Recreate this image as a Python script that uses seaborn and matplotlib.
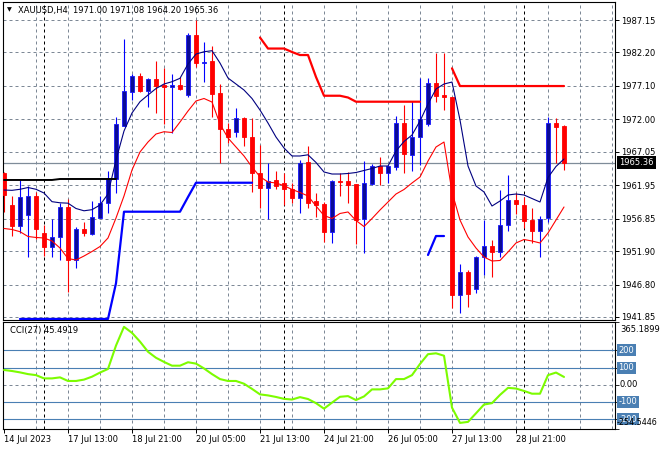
import numpy as np
import matplotlib
matplotlib.use("Agg")
import matplotlib.pyplot as plt
import seaborn as sns
from matplotlib.transforms import blended_transform_factory

sns.set_style("white")
plt.rcParams['font.family'] = ['DejaVu Sans']

# ---------------- data (XAUUSD H4) ----------------
opens = [1963.81, 1958.93, 1955.78, 1957.41, 1960.31, 1954.62, 1952.48, 1954.01, 1958.58, 1950.54,
         1955.27, 1954.46, 1957.00, 1959.19, 1962.97, 1971.03, 1976.21, 1978.61, 1976.37, 1978.15,
         1977.24, 1976.98, 1977.24, 1975.71, 1984.86, 1980.64, 1980.90, 1975.97, 1970.48, 1970.11,
         1972.16, 1969.26, 1963.86, 1961.48, 1962.75, 1962.24, 1961.33, 1959.95, 1965.45, 1959.59,
         1959.09, 1954.86, 1962.59, 1962.59, 1962.14, 1956.75, 1962.14, 1964.88, 1963.77, 1964.77,
         1971.39, 1966.56, 1969.26, 1971.29, 1977.59, 1975.71, 1975.36, 1945.21, 1948.67, 1946.07,
         1950.96, 1952.68, 1951.81, 1955.88, 1959.70, 1958.93, 1956.64, 1955.01, 1956.90, 1971.39,
         1971.00]
highs = [1963.97, 1960.31, 1962.75, 1961.88, 1960.96, 1955.88, 1956.80, 1959.24, 1959.80, 1955.53,
         1956.34, 1959.54, 1960.31, 1964.16, 1972.31, 1984.21, 1978.91, 1979.11, 1978.35, 1980.90,
         1979.78, 1978.91, 1978.41, 1985.12, 1987.15, 1983.79, 1983.18, 1977.39, 1971.39, 1973.68,
         1972.40, 1972.16, 1968.08, 1965.29, 1964.16, 1963.86, 1962.24, 1965.80, 1967.86, 1960.72,
         1959.44, 1962.75, 1963.77, 1964.01, 1962.14, 1965.64, 1965.19, 1966.30, 1965.03, 1972.51,
         1974.19, 1974.84, 1978.26, 1978.26, 1982.07, 1982.07, 1975.45, 1949.93, 1949.02, 1951.15,
         1956.64, 1953.59, 1961.22, 1963.51, 1960.81, 1960.20, 1958.43, 1957.26, 1972.40, 1972.16,
         1971.08]
lows = [1957.87, 1954.20, 1954.66, 1951.00, 1953.75, 1951.15, 1950.96, 1950.54, 1945.71, 1949.28,
        1954.25, 1954.36, 1956.90, 1957.76, 1960.72, 1971.03, 1974.95, 1976.21, 1973.93, 1972.92,
        1971.29, 1969.87, 1976.47, 1975.45, 1980.03, 1977.74, 1972.31, 1965.29, 1968.44, 1969.35,
        1967.93, 1960.96, 1958.43, 1956.75, 1961.33, 1958.93, 1959.28, 1957.76, 1958.48, 1957.15,
        1953.34, 1953.09, 1960.35, 1959.28, 1952.98, 1951.57, 1961.98, 1961.98, 1962.24, 1964.27,
        1963.86, 1964.16, 1965.03, 1970.98, 1974.69, 1973.42, 1943.18, 1942.51, 1943.42, 1945.46,
        1948.26, 1947.91, 1950.96, 1955.01, 1957.56, 1955.38, 1953.09, 1951.05, 1956.39, 1965.38,
        1964.20]
closes = [1960.46, 1955.73, 1960.11, 1960.31, 1955.23, 1952.57, 1954.01, 1958.58, 1950.54, 1955.23,
          1954.71, 1957.06, 1959.19, 1963.01, 1971.29, 1976.37, 1978.61, 1976.37, 1978.15, 1977.08,
          1976.98, 1977.24, 1976.58, 1984.86, 1980.55, 1980.79, 1975.86, 1970.48, 1969.35, 1972.16,
          1969.26, 1963.86, 1961.48, 1962.64, 1961.83, 1961.33, 1959.95, 1965.38, 1959.28, 1958.93,
          1954.77, 1962.64, 1962.44, 1961.98, 1956.64, 1962.24, 1964.88, 1963.77, 1964.88, 1971.39,
          1966.64, 1969.26, 1972.00, 1977.59, 1975.56, 1975.36, 1945.21, 1948.67, 1945.36, 1950.96,
          1952.68, 1951.81, 1955.88, 1959.70, 1959.09, 1956.54, 1955.01, 1956.75, 1971.39, 1970.88,
          1965.36]

ma_upper = [1961.22, 1961.17, 1961.33, 1961.60, 1961.33, 1960.76, 1959.44, 1959.27, 1959.21, 1958.40,
            1958.05, 1958.22, 1958.93, 1960.61, 1965.80, 1970.22, 1972.97, 1974.69, 1975.71, 1976.70,
            1977.39, 1977.74, 1978.26, 1980.44, 1981.96, 1982.31, 1982.47, 1980.59, 1978.30, 1977.39,
            1976.47, 1975.18, 1973.42, 1971.44, 1969.30, 1967.63, 1966.41, 1966.41, 1966.59, 1965.42,
            1963.97, 1963.66, 1963.66, 1963.74, 1963.89, 1964.20, 1964.50, 1964.88, 1964.88, 1967.17,
            1968.62, 1969.61, 1971.74, 1974.34, 1976.63, 1977.39, 1977.69, 1971.90, 1964.88, 1961.83,
            1960.92, 1958.78, 1959.54, 1960.46, 1960.61, 1960.46, 1959.92, 1959.39, 1963.13, 1964.81,
            1965.95]
ma_lower = [1955.35, 1955.20, 1954.86, 1954.13, 1953.98, 1953.90, 1953.44, 1952.37, 1950.77, 1950.54,
            1951.15, 1951.84, 1952.60, 1953.90, 1956.95, 1960.31, 1964.27, 1967.02, 1968.54, 1969.76,
            1970.11, 1969.99, 1971.59, 1973.27, 1974.80, 1975.18, 1974.64, 1971.29, 1969.15, 1967.78,
            1966.41, 1964.73, 1963.25, 1962.44, 1962.29, 1961.88, 1961.30, 1960.84, 1960.31, 1958.78,
            1957.33, 1956.87, 1957.64, 1957.87, 1956.57, 1955.65, 1956.87, 1958.17, 1959.39, 1960.61,
            1961.30, 1962.29, 1963.20, 1965.64, 1967.78, 1968.54, 1960.92, 1956.64, 1954.05, 1952.37,
            1951.00, 1950.39, 1950.47, 1951.76, 1953.14, 1953.67, 1953.44, 1953.14, 1954.66, 1956.64,
            1958.63]

cci = [86, 80, 72, 62, 56, 37, 37, 43, 22, 22,
       30, 47, 71, 92, 228, 337, 302, 251, 192, 157,
       133, 111, 111, 131, 123, 95, 62, 33, 22, 22,
       6, -24, -56, -62, -71, -82, -86, -72, -83, -107,
       -139, -104, -70, -66, -89, -68, -27, -27, -21, 33,
       33, 56, 121, 178, 183, 169, -133, -222, -216, -166,
       -115, -107, -59, -18, -22, -36, -52, -52, 56, 71,
       45.4919]

# trailing-stop style segments: first bar index and values
stop_black_start = 0
stop_black = [1962.75, 1962.75, 1962.75, 1962.75, 1962.75, 1962.75, 1962.75,
              1962.90, 1962.90, 1962.90, 1962.90, 1962.90, 1962.90, 1962.90, 1962.90]
stop_blue1_start = 2
stop_blue1 = [1941.55, 1941.55, 1941.55, 1941.55, 1941.55, 1941.55, 1941.55, 1941.55, 1941.55,
              1941.55, 1941.55, 1941.55, 1947.00, 1957.91, 1957.91, 1957.91, 1957.91, 1957.91,
              1957.91, 1957.91, 1957.91, 1960.15, 1962.33, 1962.33, 1962.33, 1962.33, 1962.33,
              1962.33, 1962.33, 1962.33]
stop_red1_start = 32
stop_red1 = [1984.48, 1982.80, 1982.80, 1982.80, 1982.27, 1981.81, 1981.81, 1978.46, 1975.60,
             1975.60, 1975.60, 1975.33, 1974.69, 1974.69, 1974.69, 1974.69, 1974.69, 1974.69,
             1974.69, 1974.69, 1974.69]
stop_blue2_start = 53
stop_blue2 = [1951.31, 1954.20, 1954.20]
stop_red2_start = 56
stop_red2 = [1979.78, 1977.08, 1977.08, 1977.08, 1977.08, 1977.08, 1977.08, 1977.08, 1977.08,
             1977.08, 1977.08, 1977.08, 1977.08, 1977.08, 1977.08]

price_ticks = [1987.15, 1982.20, 1977.10, 1972.00, 1967.05, 1961.95, 1956.85, 1951.90, 1946.80, 1941.85]
cci_levels = [200, 100, -100, -200]
cci_max, cci_min = 365.1899, -254.5446
time_labels = ["14 Jul 2023", "17 Jul 13:00", "18 Jul 21:00", "20 Jul 05:00", "21 Jul 13:00",
               "24 Jul 21:00", "26 Jul 05:00", "27 Jul 13:00", "28 Jul 21:00"]
time_label_bars = [0, 8, 16, 24, 32, 40, 48, 56, 64]
week_start_bars = [5, 35, 65]
title = "XAUUSD,H4  1971.00 1971.08 1964.20 1965.36"

# ---------------- figure ----------------
W, H = 660, 450
fig = plt.figure(figsize=(W / 100, H / 100), dpi=100)
fig.patch.set_facecolor('white')


def rect(x0, y0, x1, y1):
    return [x0 / W, 1 - y1 / H, (x1 - x0) / W, (y1 - y0) / H]


ax = fig.add_axes(rect(3, 2, 615, 320))
axc = fig.add_axes(rect(3, 322, 615, 428.5), sharex=ax)

n = len(closes)
x = np.arange(n)
GRID = '#7d8896'
FS = 6

for a in (ax, axc):
    a.set_facecolor('white')
    for s in a.spines.values():
        s.set_color('black')
        s.set_linewidth(0.8)
    for gx in range(4, 77, 4):
        a.axvline(gx, color=GRID, lw=0.72, ls=(0, (3, 3)), zorder=0)
    for wx in week_start_bars:
        a.axvline(wx, color='black', lw=0.72, ls=(0, (3, 3)), zorder=0.5)

for p in price_ticks:
    ax.axhline(p, color=GRID, lw=0.72, ls=(0, (3, 3)), zorder=0)
# bid line
ax.axhline(closes[-1], color='#7f8c99', lw=0.9, zorder=0.6)

# candles
o = np.array(opens); c = np.array(closes); h = np.array(highs); l = np.array(lows)
up = c >= o
ax.vlines(x[up], l[up], h[up], color='#0000ff', lw=0.8, zorder=2)
ax.vlines(x[~up], l[~up], h[~up], color='#ff0000', lw=0.8, zorder=2)
body_b = np.minimum(o, c)
body_h = np.maximum(np.abs(c - o), 0.16)
ax.bar(x[up], body_h[up], bottom=body_b[up], width=0.62, color='#0a0a96',
       edgecolor='#1515ff', linewidth=0.6, zorder=3)
ax.bar(x[~up], body_h[~up], bottom=body_b[~up], width=0.62, color='#ff0000',
       edgecolor='#ff0000', linewidth=0.6, zorder=3)

# moving averages
sns.lineplot(x=x, y=ma_upper, ax=ax, color='#000080', linewidth=0.8, zorder=4, legend=False)
sns.lineplot(x=x, y=ma_lower, ax=ax, color='#ff0000', linewidth=0.8, zorder=4, legend=False)

# stop lines
for start, vals, col, lw in [(stop_black_start, stop_black, 'black', 1.4),
                             (stop_blue1_start, stop_blue1, '#0000ff', 1.6),
                             (stop_red1_start, stop_red1, '#ff0000', 1.6),
                             (stop_blue2_start, stop_blue2, '#0000ff', 1.6),
                             (stop_red2_start, stop_red2, '#ff0000', 1.6)]:
    xs = np.arange(start, start + len(vals))
    sns.lineplot(x=xs, y=vals, ax=ax, color=col, linewidth=lw, zorder=5, legend=False)

ax.set_xlim(-0.125, 76.375)
ax.set_ylim(1941.39, 1989.90)
ax.yaxis.tick_right()
ax.set_yticks(price_ticks)
ax.set_yticklabels([f"{p:.2f}" for p in price_ticks])
ax.tick_params(axis='y', which='both', right=True, left=False, length=3, width=0.7,
               direction='out', labelsize=FS, pad=1.5, colors='black')
ax.tick_params(axis='x', bottom=False, labelbottom=False)
ax.set_xlabel(''); ax.set_ylabel('')

# current price box
trp = blended_transform_factory(ax.transAxes, ax.transData)
ax.text(1 + 4 / 612, closes[-1], f"{closes[-1]:.2f}", transform=trp, ha='left', va='center',
        fontsize=FS, color='white', zorder=10, clip_on=False,
        bbox=dict(boxstyle='square,pad=0.25', fc='black', ec='none'))

# title
fig.text(7 / W, 1 - 10 / H, "\u25bc", fontsize=4.5, ha='left', va='center', color='black')
fig.text(18 / W, 1 - 10 / H, title, fontsize=FS, ha='left', va='center', color='black')

# ---------------- CCI ----------------
LEVEL = '#4a7fb3'
for lv in cci_levels:
    axc.axhline(lv, color=LEVEL, lw=0.8, zorder=1)
axc.axhline(0, color=GRID, lw=0.72, ls=(0, (3, 3)), zorder=0)
sns.lineplot(x=x, y=cci, ax=axc, color='#7cfc00', linewidth=1.5, zorder=4, legend=False)
axc.set_ylim(cci_min, cci_max)
axc.set_xlabel(''); axc.set_ylabel('')
axc.yaxis.tick_right()
axc.set_yticks([cci_max] + cci_levels[:2] + [0] + cci_levels[2:] + [cci_min])
axc.set_yticklabels([])
axc.tick_params(axis='y', right=True, left=False, length=3, width=0.7, direction='out')
axc.set_xticks(time_label_bars)
axc.set_xticklabels(time_labels, ha='left', fontsize=FS)
axc.tick_params(axis='x', bottom=True, length=3, width=0.7, direction='out', pad=2, colors='black')

trc = blended_transform_factory(axc.transAxes, axc.transData)
for lv in cci_levels:
    axc.text(1 + 3.5 / 612, lv, str(lv), transform=trc, ha='left', va='center', fontsize=FS,
             color='white', clip_on=False, zorder=10,
             bbox=dict(boxstyle='square,pad=0.18', fc=LEVEL, ec='none'))
axc.text(1 + 5 / 612, 0, "0.00", transform=trc, ha='left', va='center', fontsize=FS, color='black')
axc.text(1 + 5 / 612, 1 - 3 / 106, f"{cci_max:.4f}", transform=axc.transAxes, ha='left', va='top',
         fontsize=FS, color='black')
axc.text(1 + 1.5 / 612, 0.01, f"{cci_min:.4f}", transform=axc.transAxes, ha='left', va='bottom',
         fontsize=5.8, color='black', zorder=11)
axc.text(7 / 612, 1 - 4 / 106, f"CCI(27) {cci[-1]:.4f}", transform=axc.transAxes, ha='left', va='top',
         fontsize=FS, color='black')

fig.savefig('out.png', dpi=100, facecolor='white')
